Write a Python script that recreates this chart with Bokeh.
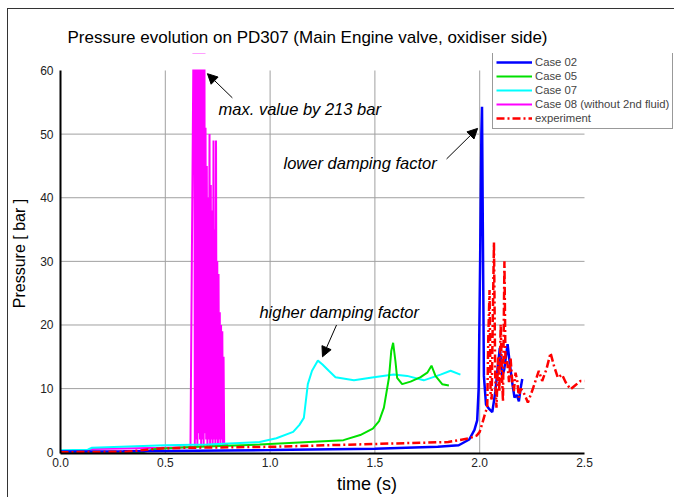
from bokeh.plotting import figure
from bokeh.models import Range1d, Legend, LegendItem, Arrow, NormalHead, Label, FixedTicker, PrintfTickFormatter
from bokeh.embed import file_html
from bokeh.resources import INLINE

# ---- data ----
case02_t = [0.0, 0.3, 0.5, 1.0, 1.5, 1.8, 1.9, 1.95, 1.975, 1.988, 1.995, 2.002, 2.008, 2.011,
            2.015, 2.02, 2.03, 2.045, 2.06, 2.075, 2.085, 2.096, 2.107, 2.117, 2.125, 2.133,
            2.144, 2.155, 2.166, 2.177, 2.187, 2.195, 2.203]
case02_p = [0.1, 0.15, 0.2, 0.35, 0.55, 0.85, 1.1, 2.0, 3.5, 5.0, 10.0, 30.0, 50.0, 54.3,
            35.0, 12.0, 7.5, 6.8, 6.3, 9.6, 13.0, 16.4, 12.0, 13.0, 15.0, 17.0,
            13.8, 11.0, 8.6, 9.0, 8.0, 10.0, 11.5]

case05_t = [0.0, 0.2, 0.4, 0.45, 0.6, 0.95, 1.35, 1.43, 1.49, 1.52, 1.543, 1.567, 1.578, 1.587,
            1.598, 1.606, 1.63, 1.67, 1.718, 1.75, 1.77, 1.789, 1.821, 1.853]
case05_p = [0.0, 0.0, 0.05, 0.5, 0.8, 1.2, 1.9, 2.7, 3.7, 4.9, 7.0, 11.7, 15.9, 17.2,
            14.3, 11.7, 10.7, 11.1, 11.8, 12.5, 13.6, 12.0, 10.7, 10.5]

case07_t = [0.0, 0.13, 0.15, 0.5, 0.7, 0.95, 1.03, 1.11, 1.14, 1.161, 1.18, 1.2, 1.228, 1.25,
            1.28, 1.312, 1.4, 1.495, 1.59, 1.654, 1.733, 1.813, 1.861, 1.908]
case07_p = [0.3, 0.4, 0.7, 1.1, 1.2, 1.6, 2.2, 3.2, 4.3, 5.4, 10.7, 12.8, 14.4, 13.8,
            12.8, 11.8, 11.3, 11.8, 12.2, 12.0, 11.3, 12.2, 12.8, 12.2]

case08_t = [0.0, 0.13, 0.145, 0.3, 0.48, 0.62,
            0.638, 0.641, 0.644, 0.647, 0.650, 0.653, 0.656, 0.659, 0.662, 0.665, 0.668,
            0.671, 0.674, 0.677, 0.680, 0.683, 0.686, 0.689, 0.692, 0.695, 0.698, 0.701,
            0.704, 0.707, 0.711, 0.714, 0.717, 0.720, 0.723, 0.726, 0.730, 0.733, 0.736,
            0.739, 0.742, 0.745, 0.748, 0.751, 0.754, 0.757, 0.760, 0.763, 0.766, 0.769,
            0.772, 0.775, 0.778, 0.781, 0.80]
case08_p = [0.1, 0.15, 0.5, 0.6, 0.7, 0.8,
            80, 1, 150, 2, 213, 1, 180, 3, 120, 2, 160,
            1, 100, 2, 130, 1, 90, 3, 51, 2, 45, 1,
            40, 2, 50, 1, 42, 2, 38, 1, 49, 2, 35,
            1, 49, 2, 30, 1, 28, 2, 22, 1, 20, 2,
            19, 1, 15, 1.2, 1.2]

exp_t = [0.0, 0.2, 0.32, 0.48, 0.6, 1.0, 1.5, 1.85, 1.95, 1.985, 2.0, 2.012, 2.025, 2.036, 2.041,
         2.047, 2.052, 2.057, 2.062, 2.068, 2.074, 2.08, 2.088, 2.094, 2.1, 2.106, 2.111,
         2.118, 2.123, 2.131, 2.14, 2.147, 2.155, 2.163, 2.171, 2.179, 2.187, 2.195, 2.207,
         2.23, 2.255, 2.274, 2.282, 2.298, 2.318, 2.338, 2.355, 2.373, 2.393, 2.41, 2.433,
         2.455, 2.481, 2.5]
exp_p = [0.0, 0.05, 0.1, 0.6, 0.7, 0.85, 1.3, 1.6, 2.2, 2.6, 3.2, 4.5, 6.0, 7.1, 18.0,
         25.5, 9.0, 8.3, 20.0, 33.0, 12.0, 7.0, 14.9, 9.5, 20.1, 12.3, 8.0,
         30.0, 13.8, 14.3, 11.0, 14.9, 11.2, 9.6, 12.5, 11.2, 8.6, 10.0, 9.6,
         7.8, 10.1, 12.0, 12.8, 11.2, 13.0, 15.6, 13.5, 11.7, 12.2, 11.0, 9.9,
         10.5, 11.2, 11.2]

x_ticks = [0.0, 0.5, 1.0, 1.5, 2.0, 2.5]
y_ticks = [0, 10, 20, 30, 40, 50, 60]
x_grid = [0.5, 1.0, 1.5, 2.0]
y_grid = [10, 20, 30, 40, 50]
legend_labels = ["Case 02", "Case 05", "Case 07", "Case 08 (without 2nd fluid)", "experiment"]
title_text = "Pressure evolution on PD307 (Main Engine valve, oxidiser side)"

FONT = "Liberation Sans"
X0, X1 = 0.0, 2.5
Y0, Y1 = -0.2, 60.0
X_END = 2.9246     # frame extends to the right (room for the legend)
Y_END = 62.672     # frame extends above 60 (room for the legend)

p = figure(width=674, height=497, x_range=Range1d(X0, X_END), y_range=Range1d(Y0, Y_END),
           output_backend="svg", toolbar_location=None,
           min_border_left=60, min_border_right=1, min_border_top=53, min_border_bottom=44)
p.styles = {"background": "linear-gradient(#333, #333) 7px 8px / 1px 489px no-repeat, "
                          "linear-gradient(#333, #333) 7px 8px / 667px 1px no-repeat"}
p.border_fill_color = None
p.outline_line_color = None
p.background_fill_color = "white"
p.grid.grid_line_color = None

p.title.text = title_text
p.title.text_font = FONT
p.title.text_font_size = "17px"
p.title.text_font_style = "normal"
p.title.text_color = "black"
p.title.align = "left"
p.title.offset = 7
p.title.standoff = 14

p.xaxis.ticker = FixedTicker(ticks=x_ticks)
p.xaxis.formatter = PrintfTickFormatter(format="%.1f")
p.yaxis.ticker = FixedTicker(ticks=y_ticks)
p.xaxis.bounds = (X0, X1)
p.yaxis.bounds = (Y0, Y1)
for ax in (p.xaxis, p.yaxis):
    ax.axis_line_width = 2
    ax.axis_line_color = "black"
    ax.major_tick_out = 0
    ax.major_tick_in = 0
    ax.minor_tick_out = 0
    ax.minor_tick_in = 0
    ax.major_label_text_font = FONT
    ax.major_label_text_font_size = "12px"
    ax.major_label_text_color = "#222"
    ax.axis_label_text_font = FONT
    ax.axis_label_text_font_style = "normal"
    ax.axis_label_text_color = "black"
p.xaxis.axis_label = "time (s)"
p.xaxis.axis_label_text_font_size = "18px"
p.xaxis.major_label_standoff = 4
p.xaxis.axis_label_standoff = 4
p.yaxis.axis_label = "Pressure [ bar ]"
p.yaxis.axis_label_text_font_size = "16px"
p.yaxis.major_label_standoff = 7
p.yaxis.axis_label_standoff = 9

# grid lines limited to the data area
p.segment(x0=x_grid, y0=[Y0] * len(x_grid), x1=x_grid, y1=[Y1] * len(x_grid),
          line_color="#a0a0a0", line_width=1)
p.segment(x0=[X0] * len(y_grid), y0=y_grid, x1=[X1] * len(y_grid), y1=y_grid,
          line_color="#a0a0a0", line_width=1)

r08 = p.line(case08_t, case08_p, line_color="#ff00ff", line_width=2)
r07 = p.line(case07_t, case07_p, line_color="#00ffff", line_width=2)
r05 = p.line(case05_t, case05_p, line_color="#00e000", line_width=2)
r02 = p.line(case02_t, case02_p, line_color="#0000ff", line_width=2.5)
rex = p.line(exp_t, exp_p, line_color="#ff0000", line_width=2.5, line_dash="8 3 2 3")

# the data area ends at 60 bar: blank the strip above it
p.quad(left=[X0], right=[X_END], bottom=[Y1 + 0.15], top=[Y_END], fill_color="white",
       line_color=None)

legend = Legend(items=[LegendItem(label=legend_labels[0], renderers=[r02]),
                       LegendItem(label=legend_labels[1], renderers=[r05]),
                       LegendItem(label=legend_labels[2], renderers=[r07]),
                       LegendItem(label=legend_labels[3], renderers=[r08]),
                       LegendItem(label=legend_labels[4], renderers=[rex])],
                location=(432, 324))
legend.label_text_font = FONT
legend.label_text_font_size = "11.3px"
legend.label_height = 14
legend.glyph_height = 14
legend.glyph_width = 36
legend.label_standoff = 3
legend.spacing = 0
legend.padding = 3
legend.margin = 0
legend.border_line_color = "#333"
legend.border_line_width = 1
legend.background_fill_alpha = 1
p.add_layout(legend)

ann = [("max. value by 213 bar", 0.754, 54.0, 0.82, 55.7, 0.701, 59.5),
       ("lower damping factor", 1.064, 45.4, 1.842, 46.1, 1.99, 50.9),
       ("higher damping factor", 0.949, 22.0, 1.317, 20.0, 1.25, 15.0)]
for txt, tx, ty, xs, ys, xe, ye in ann:
    p.add_layout(Label(x=tx, y=ty, text=txt, text_font=FONT, text_font_size="16.5px",
                       text_font_style="italic", text_baseline="middle", text_color="black"))
    p.add_layout(Arrow(end=NormalHead(size=10, fill_color="black", line_color="black"),
                       x_start=xs, y_start=ys, x_end=xe, y_end=ye,
                       line_width=1, line_color="black"))

open("out.html", "w").write(file_html(p, INLINE))
